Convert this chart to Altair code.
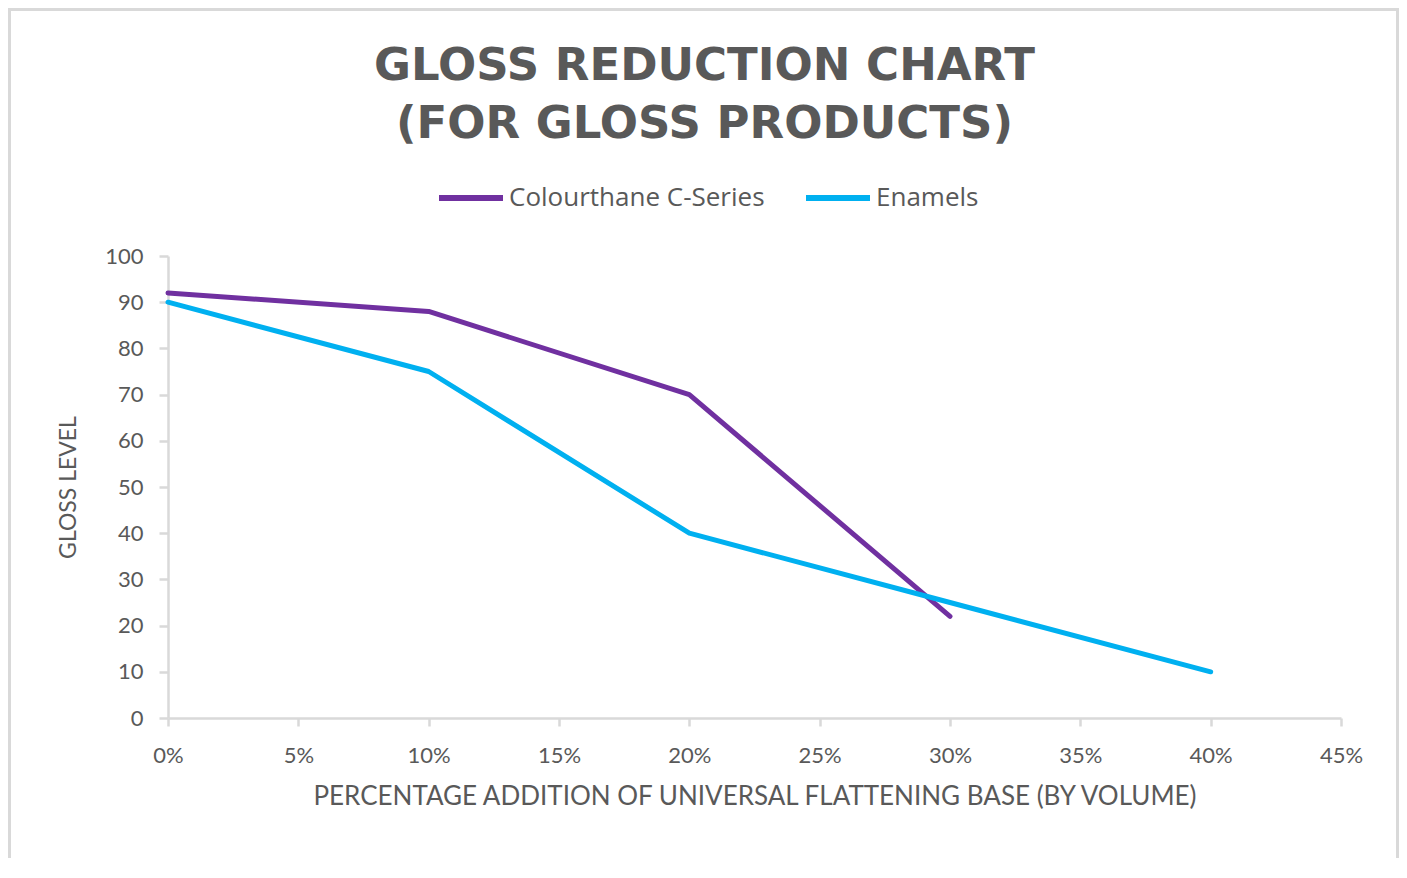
import altair as alt
import pandas as pd

# Data
pct_c = [0.0, 0.10, 0.20, 0.30]
gloss_c = [92, 88, 70, 22]
pct_e = [0.0, 0.10, 0.20, 0.30, 0.40]
gloss_e = [90, 75, 40, 25, 10]
series_names = ["Colourthane C-Series", "Enamels"]
series_colors = ["#7030A0", "#00B0F0"]
x_ticks = [0.0, 0.05, 0.10, 0.15, 0.20, 0.25, 0.30, 0.35, 0.40, 0.45]
y_ticks = [0, 10, 20, 30, 40, 50, 60, 70, 80, 90, 100]
title_lines = ["GLOSS REDUCTION CHART", "(FOR GLOSS PRODUCTS)"]

rows = []
for p, g in zip(pct_c, gloss_c):
    rows.append({"pct": p, "gloss": g, "series": series_names[0]})
for p, g in zip(pct_e, gloss_e):
    rows.append({"pct": p, "gloss": g, "series": series_names[1]})
df = pd.DataFrame(rows)

W, H = 1173, 462
PL, PT, PR, PB = 160, 248, 58, 140
LABEL = "#595959"
AXIS = "#D9D9D9"
FONT = "Lato"

lines = alt.Chart(df).mark_line(strokeWidth=5, strokeCap="round", strokeJoin="round").encode(
    x=alt.X("pct:Q",
            scale=alt.Scale(domain=[0, 0.45], nice=False),
            axis=alt.Axis(values=x_ticks, format=".0%", grid=False, labelFlush=False,
                          title="PERCENTAGE ADDITION OF UNIVERSAL FLATTENING BASE (BY VOLUME)",
                          domainColor=AXIS, domainWidth=2.5, tickColor=AXIS, tickWidth=2.5,
                          tickSize=8, labelPadding=19, labelFontSize=22, labelColor=LABEL,
                          labelFont=FONT, titleFont=FONT, titleFontSize=26,
                          titleFontWeight="normal", titleColor=LABEL, titlePadding=17)),
    y=alt.Y("gloss:Q",
            scale=alt.Scale(domain=[0, 100], nice=False),
            axis=alt.Axis(values=y_ticks, grid=False, title="GLOSS LEVEL",
                          domainColor=AXIS, domainWidth=2.5, tickColor=AXIS, tickWidth=2.5,
                          tickSize=9, labelPadding=16, labelFontSize=22, labelColor=LABEL,
                          labelFont=FONT, titleFont=FONT, titleFontSize=23,
                          titleFontWeight="normal", titleColor=LABEL, titlePadding=24)),
    color=alt.Color("series:N",
                    scale=alt.Scale(domain=series_names, range=series_colors),
                    legend=alt.Legend(title=None, orient="none", direction="horizontal",
                                      legendX=268, legendY=-93,
                                      symbolType="stroke", symbolSize=4096,
                                      symbolStrokeWidth=6, labelFontSize=26,
                                      labelFont="Open Sans", labelColor=LABEL, labelOffset=3,
                                      labelLimit=0, columnPadding=29)),
    order="pct:Q",
)

border = alt.Chart(alt.Data(values=[{}])).mark_rect(
    filled=False, stroke=AXIS, strokeWidth=3
).encode(
    x=alt.value(-PL + 1.5), x2=alt.value(W + PR - 1.5),
    y=alt.value(-PT + 1.5), y2=alt.value(H + PB + 40),
)

chart = alt.layer(border, lines).properties(
    width=W, height=H,
    background="white",
    autosize=alt.AutoSizeParams(type="none"),
    padding={"left": PL, "top": PT, "right": PR, "bottom": PB},
    title=alt.TitleParams(text=title_lines, font="DejaVu Sans", fontSize=45,
                          fontWeight="bold", color=LABEL, anchor="middle",
                          frame="group", dx=-50, offset=-139, lineHeight=58),
).configure_view(stroke=None, strokeWidth=0)

chart.save("out.html", embed_options={"renderer": "svg", "actions": False})
